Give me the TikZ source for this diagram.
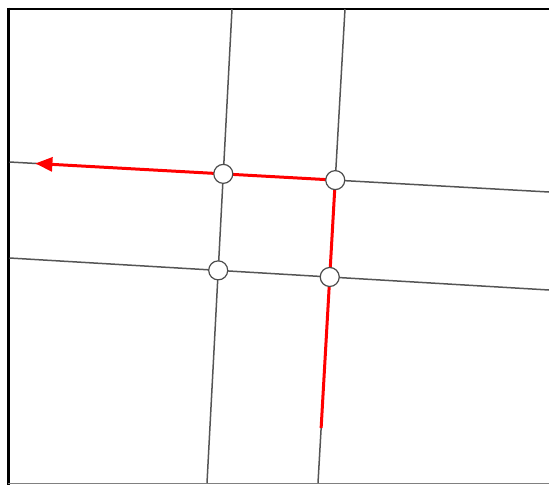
\documentclass[tikz,border=0pt]{standalone}
\usetikzlibrary{arrows.meta,calc}
\definecolor{roadgray}{HTML}{555555}
\definecolor{routered}{HTML}{FF0000}
\tikzset{
  road/.style={draw=roadgray, line width=1.5pt},
  route/.style={draw=routered, line width=3pt, line join=round},
  junction/.style={circle, draw=roadgray!90!black, fill=white, line width=1.2pt, minimum size=19pt, inner sep=0pt},
}
\begin{document}
\begin{tikzpicture}[x=1pt,y=-1pt]
\useasboundingbox (0,0) rectangle (549,485);
\fill[white] (0,0) rectangle (549,485);
% frame
\coordinate (ftl) at (8,8.5);
\coordinate (ftr) at (549,8.5);
\coordinate (fbl) at (8,485);
\coordinate (bl) at (8,483.5);
\coordinate (br) at (549,483.5);
\draw[black, line width=2pt] (ftl) -- (ftr);
\draw[black, line width=3pt] ($(ftl)+(0,-1)$) -- (fbl);
\draw[gray, line width=1.5pt] (bl) -- (br);
% road end points
\coordinate (v1t) at (232,9);
\coordinate (v1b) at (207,483);
\coordinate (v2t) at (345,9);
\coordinate (v2b) at (318,483);
\coordinate (h1l) at (9.5,162);
\coordinate (h1r) at (549,192);
\coordinate (h2l) at (9.5,258);
\coordinate (h2r) at (549,290);
\draw[road] (v1t) -- (v1b);
\draw[road] (v2t) -- (v2b);
\draw[road] (h1l) -- (h1r);
\draw[road] (h2l) -- (h2r);
% junctions
\coordinate (p1) at (intersection of v1t--v1b and h1l--h1r);
\coordinate (p2) at (intersection of v2t--v2b and h1l--h1r);
\coordinate (p3) at (intersection of v1t--v1b and h2l--h2r);
\coordinate (p4) at (intersection of v2t--v2b and h2l--h2r);
% route
\coordinate (rstart) at ($(v2t)!0.884!(v2b)$);
\coordinate (rtip) at ($(h1l)!0.048!(h1r)$);
\draw[route, -{Triangle[length=17pt,width=14pt]}] (rstart) -- (p2) -- (p1) -- (rtip);
\node[junction] (n1) at (p1) {};
\node[junction] (n2) at (p2) {};
\node[junction] (n3) at (p3) {};
\node[junction] (n4) at (p4) {};
\end{tikzpicture}
\end{document}
